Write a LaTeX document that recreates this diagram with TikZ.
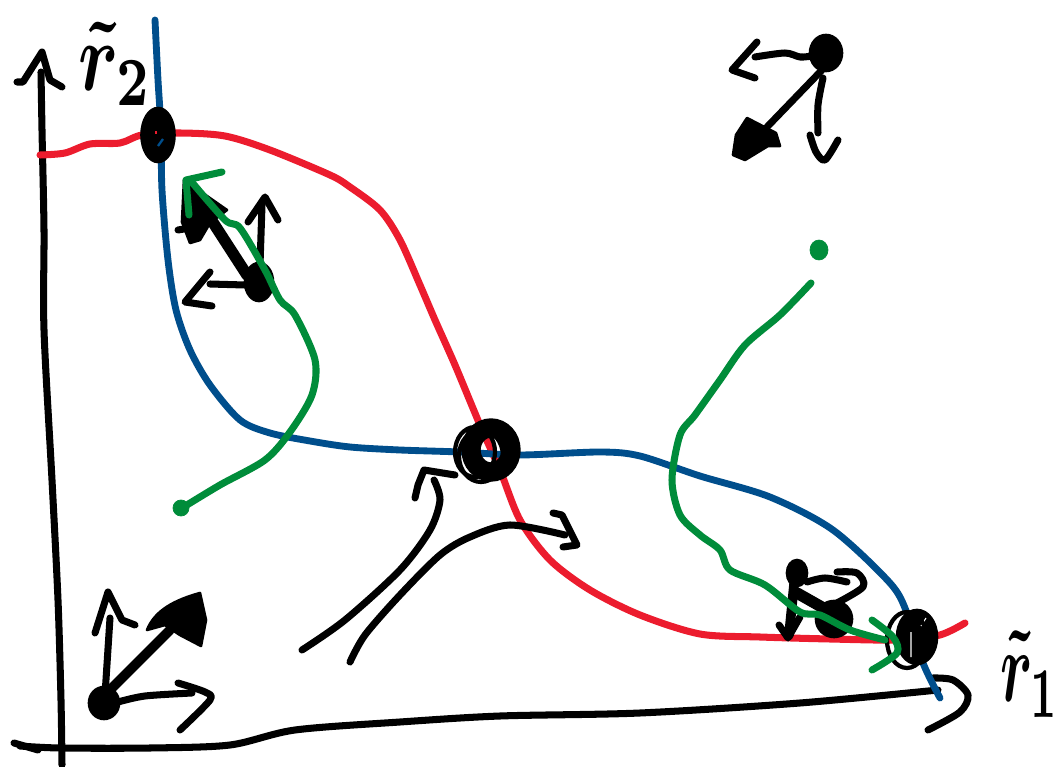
\documentclass[tikz,border=0pt]{standalone}
\usepackage{amsmath,amssymb}
\usepackage{xcolor}
\usepackage{tikz}
\usetikzlibrary{shapes,positioning}
\definecolor{penred}{HTML}{EC1C2E}
\definecolor{penblue}{HTML}{004E8C}
\definecolor{pengreen}{HTML}{008C3A}

\begin{document}
\begin{tikzpicture}[
    x=0.02cm, y=-0.02cm,
    ink/.style={draw=black, line width=4pt, line cap=round, line join=round},
    heavy/.style={ink, line width=5.5pt},
    thin ink/.style={ink, line width=2.4pt},
    blob/.style={draw=black, fill=black, line width=1.5pt, line join=round},
    redpen/.style={draw=penred, line width=4pt, line cap=round},
    bluepen/.style={draw=penblue, line width=3.9pt, line cap=round},
    greenpen/.style={draw=pengreen, line width=4pt, line cap=round, line join=round},
    axislabel/.style={font=\boldmath, inner sep=0pt}
]
\useasboundingbox (0,0) rectangle (1063,767);

% axes
\draw[ink] plot[smooth] coordinates {(41,72) (42,130) (44,230) (44,330) (52,480) (58,600) (61,700) (62,765)};
\draw[ink] (17,82) -- (23,82) -- (42,52) -- (50,80) -- (62,87);
\draw[ink] (14,743) -- (38,750);
\draw[ink] plot[smooth] coordinates {(20,746) (60,748) (150,748) (230,745) (295,730) (400,722) (500,716) (640,713) (800,703) (938,690)};
\draw[ink] plot[smooth] coordinates {(933,678) (953,680) (968,695) (960,712) (928,730)};
\node[axislabel, xscale=4.1, yscale=5.6] (r2) at (116,64) {$\tilde r_2$};
\node[axislabel, xscale=3.3, yscale=5.8] (r1) at (1030,674) {$\tilde r_1$};

% fronts
\draw[redpen] plot[smooth] coordinates {(40,155) (65,153) (90,144) (120,143) (142,135) (180,133) (225,136) (270,150) (330,175) (350,187) (380,210) (400,240) (420,285) (435,320) (455,365) (480,425) (500,470) (520,520) (550,560) (590,590) (640,615) (700,634) (760,637) (830,639) (900,640) (940,635) (965,623)};
\draw[bluepen] plot[smooth] coordinates {(155,20) (158,80) (161,130) (162,190) (168,260) (176,310) (190,350) (210,385) (240,420) (270,433) (310,441) (350,447) (400,450) (460,452) (520,455) (600,452) (640,456) (700,476) (770,497) (833,530) (890,583) (907,613) (923,663) (940,698)};

% points on the fronts
\node[blob, ellipse, minimum width=0.66cm, minimum height=1.08cm, inner sep=0pt] (pa) at (158,135) {};
\draw[penblue, line width=1.3pt] (158,146) -- (163,139);
\draw[penred, line width=1pt] (156,131) -- (156,134);
\draw[line width=11pt] (491,450) ellipse (20 and 22);
\draw[thin ink] (475,452) ellipse (20 and 25);
\draw[thin ink] (481,456) ellipse (22 and 26);
\draw[blob] (917,637) ellipse (20 and 27);
\draw[white, line width=0.6pt] (911,632) -- (911,657) (921,626) -- (926,618);
\draw[thin ink] (907,640) ellipse (20 and 28);

% bottom left
\draw[blob] (104,703) ellipse (15 and 16);
\draw[ink] (105,695) -- (110,618);
\draw[ink] (95,633) -- (108,592) -- (122,620) -- (135,625);
\draw[heavy] (110,690) -- (170,630);
\draw[blob] (147,630) .. controls (155,610) and (175,600) .. (200,593) -- (206,620) -- (201,646) -- (180,635) -- (165,625) -- cycle;
\draw[ink] plot[smooth] coordinates {(118,702) (145,696) (192,693)};
\draw[ink] plot[smooth] coordinates {(178,683) (205,692) (210,700) (180,730)};

% top left
\draw[blob] (259,282) ellipse (14 and 19);
\draw[ink] (260,265) -- (262,205);
\draw[ink] (248,222) -- (265,197) -- (278,220);
\draw[ink] (245,285) -- (210,284);
\draw[ink] (210,272) -- (185,302) -- (212,306);
\draw[ink, line width=6.5pt] (247,275) -- (192,190);
\draw[blob] (184,180) -- (227,210) -- (210,223) -- (200,240) -- (190,243) -- (182,222) -- cycle;
\draw[ink] (178,230) -- (190,228);

% top right
\draw[blob] (826,53) ellipse (16 and 18);
\draw[ink] plot[smooth] coordinates {(812,56) (800,57) (785,53) (755,57)};
\draw[ink] (757,42) -- (732,70) -- (755,78);
\draw[ink] (822,70) -- (767,127);
\draw[blob] (747,118) -- (776,133) -- (780,146) -- (768,146) -- (745,160) -- (733,155) -- (736,135) -- cycle;
\draw[ink] plot[smooth] coordinates {(823,78) (818,105) (818,133)};
\draw[ink] plot[smooth] coordinates {(810,135) (816,152) (825,160) (838,140)};

% middle
\draw[ink] plot[smooth] coordinates {(302,650) (345,620) (400,570) (430,530) (440,500) (434,480)};
\draw[ink] plot[smooth] coordinates {(350,662) (365,635) (400,595) (440,555) (470,537) (510,525) (565,535)};
\draw[ink] (553,513) -- (562,515) -- (577,545) -- (563,547);
\draw[ink] (455,475) -- (424,470) -- (418,485) -- (415,498);

% bottom right
\draw[blob] (797,573) ellipse (10 and 13);
\draw[ink, line width=5.5pt] (795,575) -- (789,635);
\draw[ink] (779,625) -- (788,638) -- (800,617);
\draw[ink, line width=6.5pt] (797,593) -- (827,610);
\draw[blob] (834,619) ellipse (18 and 18);
\draw[ink] plot[smooth] coordinates {(807,582) (825,578) (847,582)};
\draw[ink] plot[smooth] coordinates {(837,572) (857,573) (863,587) (833,605)};

% trajectories
\draw[greenpen] (222,172) -- (186,180) -- (189,215);
\draw[greenpen] plot[smooth] coordinates {(190,180) (225,220) (240,228) (265,270) (280,300) (295,315) (315,360) (312,395) (290,432) (265,460) (220,485) (182,508)};
\draw[pengreen, fill=pengreen] (181,508) ellipse (8 and 8);
\draw[pengreen, fill=pengreen] (819,250) ellipse (9 and 10);
\draw[greenpen] plot[smooth] coordinates {(811,283) (780,315) (745,345) (720,380) (695,415) (680,435) (672,480) (680,515) (700,535) (720,550) (730,570) (765,585) (800,612) (820,615) (850,630) (885,640)};
\draw[greenpen] plot[smooth] coordinates {(872,620) (893,637) (897,653) (872,670)};
\end{tikzpicture}
\end{document}
